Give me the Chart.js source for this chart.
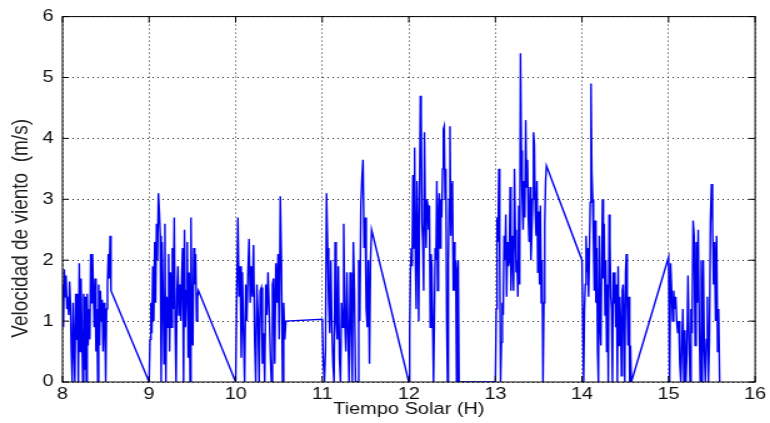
<!DOCTYPE html>
<html>
<head>
<meta charset="utf-8">
<script src="https://cdn.jsdelivr.net/npm/chart.js@4/dist/chart.umd.min.js"></script>
<style>
  html, body { margin: 0; padding: 0; background: #fff; overflow: hidden; }
  #c { display: block; width: 616px; height: 423px; transform: scaleX(1.25); transform-origin: 0 0; }
</style>
</head>
<body>
<canvas id="c" width="616" height="423"></canvas>
<script>
// Start / end time (hours, solar time) of each recorded block
const segStart = [8.0, 9.0, 10.0, 11.0, 12.0, 13.0, 14.0, 15.0];
const segEnd   = [8.56, 9.57, 10.58, 11.57, 12.58, 13.59, 14.57, 15.59];

// Wind speed samples (m/s), one array per block
const seg1 = [1.6, 0.9, 1.85, 1.4, 1.75, 1.2, 1.4, 1.1, 1.65, 1.3, 0.5, 0, 1.3, 0.6, 0, 1.45, 0.7, 1.45, 0, 1.95,
              0.5, 1.7, 0.8, 0, 1.45, 0.2, 1.4, 0, 1.45, 0.6, 1.2, 0.7, 2.1, 1.3, 2.1, 1.5, 0.9, 1.7, 0.5, 1.2,
              0, 1.6, 0.6, 1.5, 1.0, 1.35, 0.5, 1.3, 1.0, 0, 1.2, 1.6, 2.1, 1.7, 2.4, 1.5];
const seg2 = [0, 0.7, 1.3, 0.8, 1.9, 1.0, 2.3, 1.3, 2.6, 2.0, 3.1, 2.8, 2.4, 0, 2.3, 1.5, 0.3, 2.6, 0, 1.4,
              0.9, 2.1, 0.5, 1.8, 0.9, 2.2, 1.2, 2.7, 0.9, 0, 1.5, 1.9, 1.1, 1.6, 1.0, 1.7, 2.2, 0, 2.5, 0.9,
              1.5, 2.3, 0.4, 1.8, 0, 2.7, 1.0, 0.6, 2.2, 1.6, 2.1, 1.0, 1.4, 1.5];
const seg3 = [0, 1.4, 2.7, 1.4, 1.9, 0.4, 1.8, 0.8, 0, 1.6, 1.0, 1.8, 2.35, 1.3, 1.9, 1.4, 2.25, 0.7, 0, 1.6,
              1.1, 0, 1.5, 1.55, 0.3, 0.8, 0, 1.6, 1.1, 1.8, 1.2, 0.5, 0, 1.6, 1.7, 0.3, 1.95, 1.3, 2.1, 0.7,
              3.05, 2.0, 0, 1.3, 0.7, 1.0];
const seg4 = [1.03, 0.3, 0, 0.5, 3.1, 2.2, 1.3, 0.8, 2.0, 0.9, 0.3, 0, 2.3, 1.0, 0.7, 1.9, 0.4, 0, 1.3, 0.9,
              2.6, 1.0, 0.5, 1.8, 0.8, 0, 1.8, 1.0, 0, 2.3, 1.5, 0, 0, 0, 2.0, 1.0, 2.9, 3.35, 3.65, 2.2,
              2.7, 1.2, 0.9, 2.0, 0.3, 2.0, 2.5];
const seg5 = [0, 0.8, 1.8, 2.2, 1.9, 3.4, 2.2, 3.85, 2.0, 1.2, 3.3, 2.5, 1.0, 3.0, 4.7, 4.4, 2.6, 2.3, 1.5, 4.1,
              2.8, 2.2, 3.0, 2.9, 2.5, 2.9, 0.9, 2.1, 1.9, 1.0, 0, 1.0, 2.2, 2.0, 3.3, 1.5, 2.7, 3.1, 2.2, 3.0,
              2.7, 3.5, 4.15, 4.2, 3.0, 3.5, 1.0, 0, 2.0, 3.0, 4.2, 2.4, 3.25, 3.3, 1.5, 2.3, 1.5, 2.0, 0, 1.8,
              2.0, 0];
const seg6 = [0, 1.2, 2.7, 2.3, 3.5, 2.0, 0, 0.65, 1.3, 1.1, 2.4, 2.0, 2.75, 1.4, 2.3, 1.9, 2.0, 3.2, 1.5, 2.1,
              2.4, 1.5, 3.5, 2.5, 1.8, 2.0, 1.4, 2.9, 1.6, 5.4, 3.8, 3.0, 2.5, 3.3, 2.7, 4.3, 3.2, 3.65, 2.7, 2.3,
              3.2, 2.0, 2.4, 3.0, 4.1, 3.9, 2.8, 2.4, 3.3, 1.8, 2.8, 1.6, 2.9, 1.3, 2.0, 0, 1.3, 2.6, 3.3, 3.55];
const seg7 = [2.0, 1.0, 0, 1.2, 1.6, 2.4, 1.8, 2.2, 1.4, 2.1, 2.95, 4.9, 3.45, 3.0, 2.3, 1.5, 2.65, 1.3, 2.2, 0.5,
              0, 2.4, 1.0, 0.6, 2.0, 3.0, 1.7, 2.6, 1.1, 2.0, 0.5, 1.6, 0, 2.75, 2.3, 1.4, 1.2, 0, 1.8, 1.3,
              1.8, 0.9, 1.6, 0, 1.9, 0.6, 1.4, 1.0, 0.1, 1.5, 1.6, 1.0, 0, 1.8, 2.1, 1.3, 0.6, 1.4, 0, 0.6, 0];
const seg8 = [2.05, 0, 1.95, 1.5, 1.0, 1.5, 1.2, 1.4, 1.0, 0.8, 1.0, 0.3, 0, 0.6, 1.2, 0, 0.85, 0, 0.5, 1.75,
              0.8, 0, 1.2, 0.8, 2.65, 2.4, 0.6, 2.3, 1.3, 2.5, 1.0, 0, 2.0, 0, 2.0, 0.5, 0, 0.7, 1.4, 0,
              0.7, 2.65, 3.25, 2.6, 1.6, 2.3, 1.0, 2.4, 0.5, 1.2, 0];

const xTicks = [8, 9, 10, 11, 12, 13, 14, 15, 16];
const yTicks = [0, 1, 2, 3, 4, 5, 6];
const xTitle = 'Tiempo Solar (H)';
const yTitle = 'Velocidad de viento  (m/s)';

// build the (time, speed) points: samples evenly spaced inside each block
const segments = [seg1, seg2, seg3, seg4, seg5, seg6, seg7, seg8];
const points = [];
segments.forEach((vals, k) => {
  const t0 = segStart[k], t1 = segEnd[k];
  vals.forEach((v, i) => points.push({ x: t0 + (t1 - t0) * i / (vals.length - 1), y: v }));
});

const FONT = "'Liberation Sans', Arial, Helvetica, sans-serif";

const framePlugin = {
  id: 'frame',
  afterDatasetsDraw(chart) {
    const { ctx, chartArea: a, scales: { x, y } } = chart;
    ctx.save();
    ctx.strokeStyle = '#000';
    ctx.lineWidth = 1;
    ctx.strokeRect(a.left, a.top, a.right - a.left, a.bottom - a.top);
    ctx.beginPath();
    xTicks.forEach(v => {
      const px = x.getPixelForValue(v);
      ctx.moveTo(px, a.bottom); ctx.lineTo(px, a.bottom - 6);
      ctx.moveTo(px, a.top); ctx.lineTo(px, a.top + 6);
    });
    yTicks.forEach(v => {
      const py = y.getPixelForValue(v);
      ctx.moveTo(a.left, py); ctx.lineTo(a.left + 5, py);
      ctx.moveTo(a.right, py); ctx.lineTo(a.right - 5, py);
    });
    ctx.stroke();
    ctx.restore();
  }
};

new Chart(document.getElementById('c'), {
  type: 'line',
  data: {
    datasets: [{
      data: points,
      borderColor: 'rgb(0,0,240)',
      borderWidth: 1.4,
      pointRadius: 0,
      tension: 0,
      fill: false
    }]
  },
  options: {
    responsive: false,
    animation: false,
    devicePixelRatio: 1,
    layout: { padding: { top: 13, right: 9, left: 0, bottom: 0 } },
    plugins: { legend: { display: false }, tooltip: { enabled: false } },
    scales: {
      x: {
        type: 'linear',
        min: 8, max: 16,
        afterBuildTicks: s => { s.ticks = xTicks.map(v => ({ value: v })); },
        afterFit: s => { s.height = 41; },
        grid: { color: 'rgba(0,0,0,0.85)', lineWidth: 1, drawTicks: false },
        border: { display: false, dash: [1, 3] },
        ticks: { color: '#111', padding: 3, font: { family: FONT, size: 16 } },
        title: { display: true, text: xTitle, color: '#111', padding: { top: 4, bottom: 4 },
                 font: { family: FONT, size: 16 } }
      },
      y: {
        type: 'linear',
        min: 0, max: 6,
        afterBuildTicks: s => { s.ticks = yTicks.map(v => ({ value: v })); },
        afterFit: s => { s.width = 50; },
        grid: { color: 'rgba(0,0,0,0.85)', lineWidth: 1, drawTicks: false },
        border: { display: false, dash: [1, 3] },
        ticks: { color: '#111', padding: 7, font: { family: FONT, size: 16 } },
        title: { display: true, text: yTitle + '\u00a0\u00a0\u00a0\u00a0\u00a0\u00a0\u00a0\u00a0\u00a0\u00a0\u00a0',
                 color: '#222', padding: { top: 5, bottom: 4 },
                 font: { family: FONT, size: 19 } }
      }
    }
  },
  plugins: [framePlugin]
});
</script>
</body>
</html>
